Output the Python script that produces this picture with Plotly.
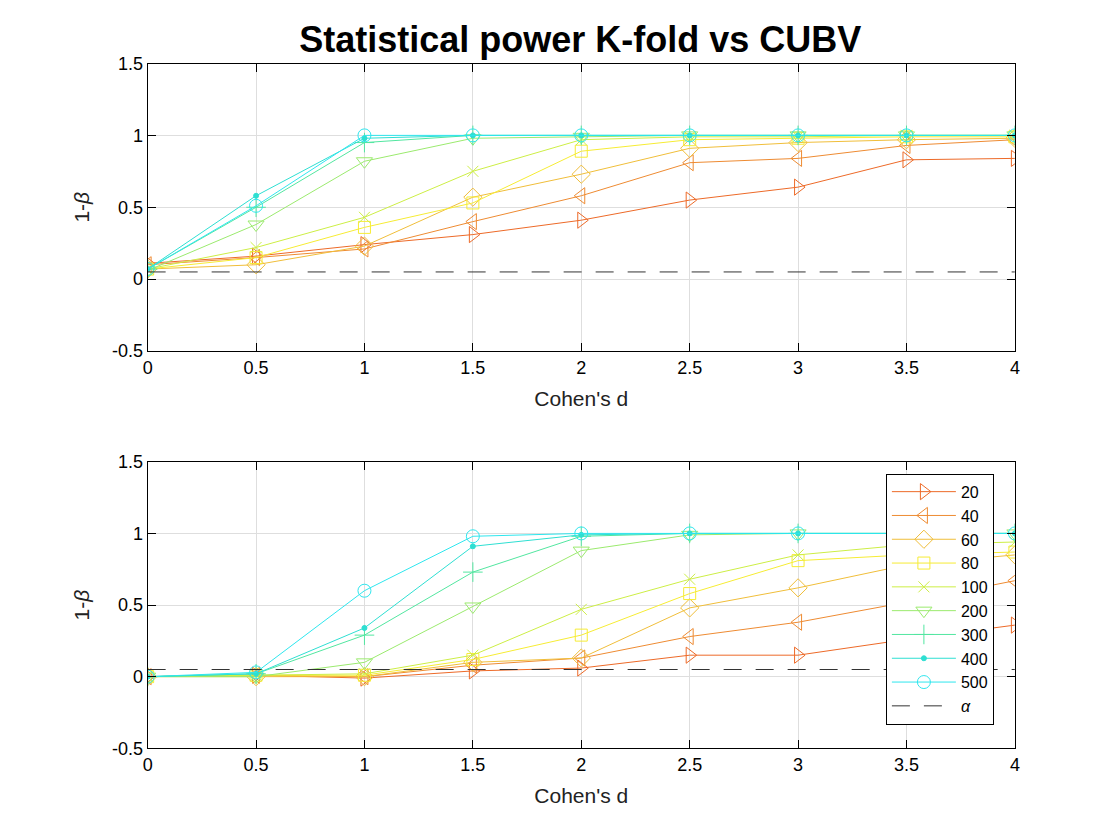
import plotly.graph_objects as go

# Cohen's d values on the x axis
cohens_d = [0, 0.5, 1, 1.5, 2, 2.5, 3, 3.5, 4]
sample_sizes = ["20", "40", "60", "80", "100", "200", "300", "400", "500"]
alpha = 0.05

# Top panel: K-fold power per sample size
kfold_20 = [0.11, 0.16, 0.24, 0.31, 0.41, 0.55, 0.64, 0.83, 0.84]
kfold_40 = [0.10, 0.15, 0.21, 0.40, 0.58, 0.81, 0.84, 0.93, 0.97]
kfold_60 = [0.07, 0.10, 0.23, 0.57, 0.73, 0.91, 0.95, 0.97, 0.98]
kfold_80 = [0.07, 0.15, 0.36, 0.53, 0.89, 0.97, 0.98, 0.99, 0.99]
kfold_100 = [0.07, 0.22, 0.43, 0.75, 0.97, 0.99, 0.99, 1.0, 1.0]
kfold_200 = [0.06, 0.38, 0.82, 0.98, 0.99, 1.0, 1.0, 1.0, 1.0]
kfold_300 = [0.07, 0.50, 0.95, 1.0, 1.0, 1.0, 1.0, 1.0, 1.0]
kfold_400 = [0.07, 0.58, 0.98, 1.0, 1.0, 1.0, 1.0, 1.0, 1.0]
kfold_500 = [0.07, 0.51, 1.0, 1.0, 1.0, 1.0, 1.0, 1.0, 1.0]

# Bottom panel: CUBV power per sample size
cubv_20 = [0.0, 0.01, -0.01, 0.04, 0.06, 0.15, 0.15, 0.26, 0.36]
cubv_40 = [0.0, 0.01, 0.0, 0.08, 0.13, 0.28, 0.38, 0.52, 0.67]
cubv_60 = [0.0, 0.0, 0.0, 0.10, 0.13, 0.48, 0.62, 0.78, 0.85]
cubv_80 = [0.0, 0.01, 0.01, 0.12, 0.29, 0.58, 0.81, 0.85, 0.87]
cubv_100 = [0.0, 0.01, 0.02, 0.15, 0.47, 0.68, 0.85, 0.92, 0.94]
cubv_200 = [0.0, 0.0, 0.10, 0.49, 0.88, 0.99, 1.0, 1.0, 1.0]
cubv_300 = [0.0, 0.02, 0.29, 0.73, 0.98, 1.0, 1.0, 1.0, 1.0]
cubv_400 = [0.0, 0.02, 0.34, 0.91, 0.99, 1.0, 1.0, 1.0, 1.0]
cubv_500 = [0.0, 0.03, 0.60, 0.98, 1.0, 1.0, 1.0, 1.0, 1.0]

kfold = [kfold_20, kfold_40, kfold_60, kfold_80, kfold_100,
         kfold_200, kfold_300, kfold_400, kfold_500]
cubv = [cubv_20, cubv_40, cubv_60, cubv_80, cubv_100,
        cubv_200, cubv_300, cubv_400, cubv_500]

boje = ["#ED6A28", "#EE8B32", "#F0BE3A", "#F6EC34", "#CDEE45",
        "#9BEA6E", "#52E6A0", "#2EDFD2", "#2EE6EE"]
simboli = ["triangle-right-open", "triangle-left-open", "diamond-open", "square-open",
           "x-thin-open", "triangle-down-open", "cross-thin-open", "circle", "circle-open"]
velicine = [14, 14, 14, 12, 11, 14, 14, 5, 13]

fig = go.Figure()

def dodajSeriju(podaci, xa, ya, legenda):
    for i in range(len(podaci)):
        fig.add_trace(go.Scatter(
            x=cohens_d, y=podaci[i], xaxis=xa, yaxis=ya,
            mode="lines+markers", name=sample_sizes[i], showlegend=legenda,
            line=dict(color=boje[i], width=1),
            marker=dict(symbol=simboli[i], size=velicine[i], color=boje[i],
                        line=dict(color=boje[i], width=1))))
    # alpha nivo
    fig.add_trace(go.Scatter(
        x=[cohens_d[0], cohens_d[-1]], y=[alpha, alpha], xaxis=xa, yaxis=ya,
        mode="lines", name="<i>α</i>", showlegend=legenda,
        line=dict(color="#333333", width=1, dash="18px,14px")))

dodajSeriju(kfold, "x", "y", False)
dodajSeriju(cubv, "x2", "y2", True)

osa = dict(showline=True, linecolor="black", linewidth=1, mirror="ticks",
           ticks="inside", ticklen=8, tickcolor="black",
           showgrid=True, gridcolor="#dedede", zeroline=False,
           tickfont=dict(size=18, color="black"))

xosa = dict(osa, range=[0, 4], tickvals=cohens_d,
            ticktext=["0", "0.5", "1", "1.5", "2", "2.5", "3", "3.5", "4"],
            title=dict(text="Cohen's d", font=dict(size=21, color="#222"), standoff=14))
yosa = dict(osa, range=[-0.5, 1.5], tickvals=[-0.5, 0, 0.5, 1, 1.5],
            ticktext=["-0.5", "0", "0.5", "1", "1.5"],
            title=dict(text="1-<i>β</i>", font=dict(size=21, color="#222"), standoff=16))

fig.update_layout(
    width=1120, height=840,
    margin=dict(l=0, r=0, t=0, b=0),
    plot_bgcolor="white", paper_bgcolor="white",
    font=dict(family="Liberation Sans, Arial, sans-serif", color="black"),
    title=dict(text="<b>Statistical power K-fold vs CUBV</b>", x=0.511, xanchor="center",
               y=0.963, yanchor="middle", font=dict(size=36, color="black")),
    xaxis=dict(xosa, domain=[0.1213, 0.9026], anchor="y"),
    yaxis=dict(yosa, domain=[0.5939, 0.9445], anchor="x"),
    xaxis2=dict(xosa, domain=[0.1213, 0.9026], anchor="y2"),
    yaxis2=dict(yosa, domain=[0.1094, 0.4588], anchor="x2"),
    legend=dict(x=0.7864, y=0.4442, xanchor="left", yanchor="top",
                bgcolor="white", bordercolor="black", borderwidth=1,
                font=dict(size=16, color="black"), itemwidth=64,
                tracegroupgap=0),
    showlegend=True,
)

fig.write_html("out.html")
